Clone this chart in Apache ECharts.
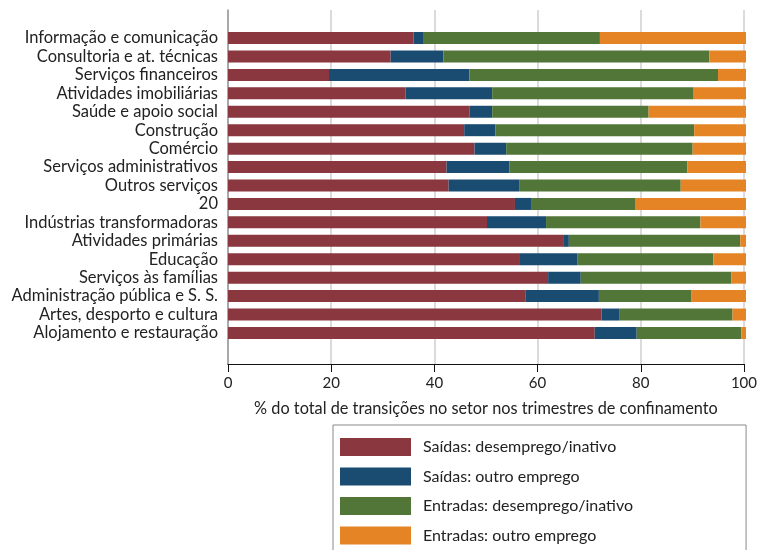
<!DOCTYPE html>
<html>
<head>
<meta charset="utf-8">
<script src="https://cdn.jsdelivr.net/npm/echarts@6/dist/echarts.min.js"></script>
<style>
  html, body { margin: 0; padding: 0; background: #fff; }
  #chart { width: 760px; height: 550px; }
</style>
</head>
<body>
<div id="chart"></div>
<script>
// sectors, top to bottom
var sectors = [
    'Informação e comunicação', 'Consultoria e at. técnicas', 'Serviços financeiros',
    'Atividades imobiliárias', 'Saúde e apoio social', 'Construção', 'Comércio',
    'Serviços administrativos', 'Outros serviços', '20', 'Indústrias transformadoras',
    'Atividades primárias', 'Educação', 'Serviços às famílias',
    'Administração pública e S. S.', 'Artes, desporto e cultura', 'Alojamento e restauração'
];

// % of transitions
var saidasDesemprego = [35.8, 31.4, 19.5, 34.3, 46.6, 45.6, 47.6, 42.2, 42.6, 55.4, 50.0, 64.7, 56.2, 61.8, 57.4, 72.1, 70.8];
var saidasEmprego = [2.0, 10.2, 27.1, 16.7, 4.4, 6.0, 6.1, 12.1, 13.6, 3.1, 11.4, 1.1, 11.3, 6.3, 14.2, 3.4, 8.1];
var entradasDesemprego = [34.0, 51.3, 48.0, 38.9, 30.2, 38.4, 36.0, 34.4, 31.2, 20.2, 29.8, 33.1, 26.2, 29.1, 17.9, 21.9, 20.2];
var entradasEmprego = [28.2, 7.1, 5.4, 10.1, 18.8, 10.0, 10.3, 11.3, 12.6, 21.3, 8.8, 1.1, 6.3, 2.8, 10.5, 2.6, 0.9];

var xTicks = [0, 20, 40, 60, 80, 100];

var seriesNames = [
    'Saídas: desemprego/inativo', 'Saídas: outro emprego',
    'Entradas: desemprego/inativo', 'Entradas: outro emprego'
];
var seriesColors = ['#8a3740', '#1a4c72', '#527637', '#e58424'];
var seriesData = [saidasDesemprego, saidasEmprego, entradasDesemprego, entradasEmprego];

var font = 'Lato';

var chart = echarts.init(document.getElementById('chart'));

chart.setOption({
    animation: false,
    textStyle: { fontFamily: font },
    legend: {
        orient: 'vertical',
        left: 333,
        top: 425,
        height: 130,
        data: seriesNames,
        itemWidth: 71,
        itemHeight: 18,
        itemGap: 11.5,
        padding: [13, 113, 13, 7],
        borderColor: '#888',
        borderWidth: 1,
        icon: 'rect',
        textStyle: { fontFamily: font, fontSize: 16, color: '#222', padding: [0, 0, 0, 7] }
    },
    grid: [
        // frame with the value axis and grid lines
        { left: 228, right: 14, top: 10, bottom: 186 },
        // the bars
        { left: 228, right: 14, top: 28.8, height: 313.4 }
    ],
    xAxis: [
        {
            gridIndex: 0,
            type: 'value',
            min: 0,
            max: 100,
            interval: 20,
            name: '% do total de transições no setor nos trimestres de confinamento',
            nameLocation: 'middle',
            nameGap: 37,
            nameTextStyle: { fontFamily: font, fontSize: 16.3, color: '#222' },
            axisLine: { show: true, lineStyle: { color: '#111', width: 1 } },
            axisTick: { show: true, length: 8, lineStyle: { color: '#111' } },
            axisLabel: {
                fontFamily: font, fontSize: 15, color: '#222', margin: 12,
                formatter: function (v) { return xTicks.indexOf(v) >= 0 ? String(v) : ''; }
            },
            splitLine: { show: true, lineStyle: { color: '#cfcfcf', width: 1.5 } }
        },
        {
            gridIndex: 1,
            type: 'value',
            min: 0,
            max: 100,
            show: false
        }
    ],
    yAxis: [
        {
            gridIndex: 0,
            type: 'category',
            data: sectors,
            inverse: true,
            axisLine: { show: true, lineStyle: { color: '#999', width: 1.5 } },
            axisTick: { show: false },
            axisLabel: { show: false },
            splitLine: { show: false }
        },
        {
            gridIndex: 1,
            type: 'category',
            data: sectors,
            inverse: true,
            axisLine: { show: false },
            axisTick: { show: false },
            axisLabel: { interval: 0, fontFamily: font, fontSize: 16.5, color: '#222', margin: 10 }
        }
    ],
    series: seriesNames.map(function (name, i) {
        return {
            name: name,
            type: 'bar',
            stack: 'total',
            xAxisIndex: 1,
            yAxisIndex: 1,
            barWidth: 12,
            itemStyle: { color: seriesColors[i] },
            data: seriesData[i]
        };
    })
});
</script>
</body>
</html>
